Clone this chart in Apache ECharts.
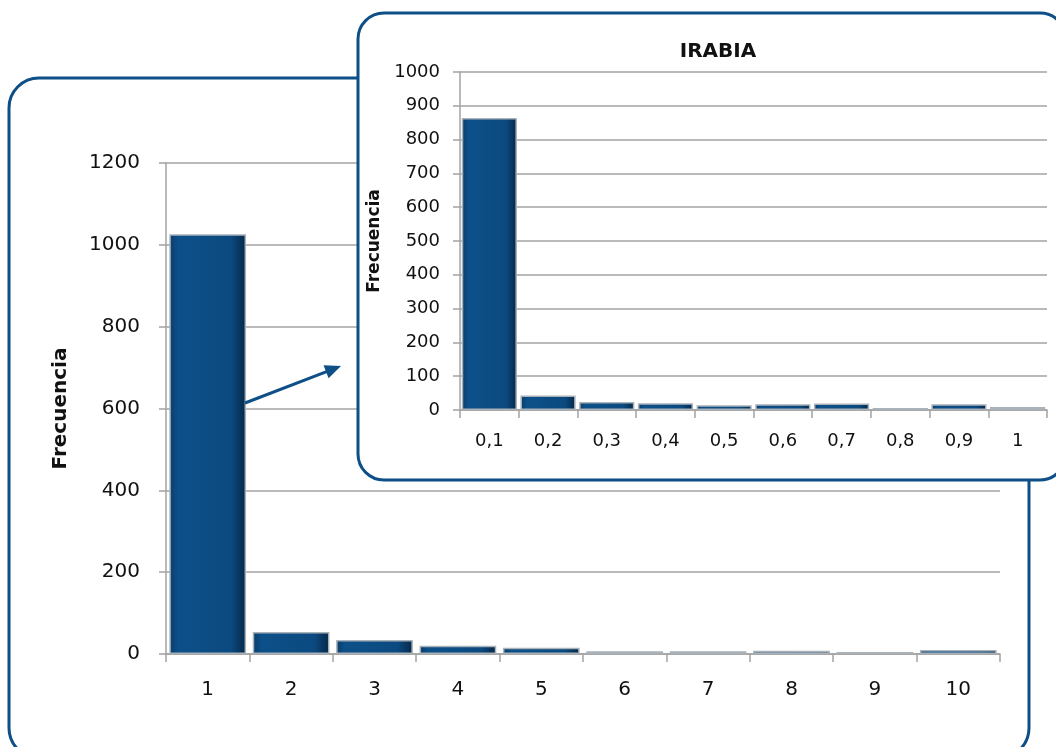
<!DOCTYPE html>
<html><head><meta charset="utf-8">
<script src="https://cdn.jsdelivr.net/npm/echarts@6/dist/echarts.min.js"></script>
<style>html,body{margin:0;padding:0;background:#fff}#c{width:1056px;height:747px}</style>
</head><body><div id="c"></div>
<script>
// Main chart data
const mainCategories = ['1','2','3','4','5','6','7','8','9','10'];
const mainValues = [1026, 54, 34, 20, 15, 7, 7, 8, 5, 10];
const mainYTicks = { min: 0, max: 1200, interval: 200 };
// Inset (IRABIA) data
const insetTitle = 'IRABIA';
const insetCategories = ['0,1','0,2','0,3','0,4','0,5','0,6','0,7','0,8','0,9','1'];
const insetValues = [864, 43, 24, 20, 14, 17, 19, 6, 17, 9];
const insetYTicks = { min: 0, max: 1000, interval: 100 };
const axisName = 'Frecuencia';

const chart = echarts.init(document.getElementById('c'), null, {renderer:'canvas'});
const blue = '#0d4f86';
const gridColor = '#a3a3a3';
const barStyle = {
  color: new echarts.graphic.LinearGradient(0,0,1,0,[
    {offset:0,color:'#0a3d6a'},{offset:0.12,color:'#0d5089'},{offset:0.8,color:'#0b4a80'},{offset:1,color:'#052848'}]),
  borderColor:'#a9b1b9', borderWidth:1.5
};
function axes(gi, cats, yt, fontSize, z, nameSize, nameGap, xMargin, yMargin){
  return {
    x: {type:'category', gridIndex:gi, data:cats, z:z,
      axisLine:{lineStyle:{color:gridColor,width:1.5}},
      axisTick:{show:true,length:8,lineStyle:{color:gridColor,width:1.5}},
      axisLabel:{color:'#111',fontFamily:'DejaVu Sans',fontSize:fontSize,margin:xMargin}},
    y: {type:'value', gridIndex:gi, min:yt.min, max:yt.max, interval:yt.interval, z:z,
      name:axisName, nameLocation:'middle', nameGap:nameGap, nameRotate:90,
      nameTextStyle:{fontFamily:'DejaVu Sans',fontWeight:'bold',fontSize:nameSize,color:'#111'},
      axisLine:{show:true,lineStyle:{color:gridColor,width:1.5}},
      axisTick:{show:true,length:7,lineStyle:{color:gridColor,width:1.5}},
      splitLine:{show:true,lineStyle:{color:gridColor,width:1.5}},
      axisLabel:{color:'#111',fontFamily:'DejaVu Sans',fontSize:fontSize,margin:yMargin,
        formatter:function(v){return String(v);}}}
  };
}
const a0 = axes(0, mainCategories, mainYTicks, 20, 0, 20, 95, 26, 26);
const a1 = axes(1, insetCategories, insetYTicks, 18, 12, 17, 72, 22, 20);

// arrow geometry
const tip=[341,366], from=[245,403];
const dx=tip[0]-from[0], dy=tip[1]-from[1], L=Math.hypot(dx,dy), ux=dx/L, uy=dy/L;
const hl=16, hw=7;
const bc=[tip[0]-hl*ux, tip[1]-hl*uy];
const px=-uy, py=ux;

chart.setOption({
  animation:false,
  title:{text:insetTitle,left:713,top:37,textAlign:'center',z:12,
    textStyle:{fontFamily:'DejaVu Sans',fontWeight:'bold',fontSize:20,color:'#111'}},
  grid:[{left:166,right:56,top:163,bottom:93},
        {left:460,right:9,top:72,bottom:337}],
  xAxis:[a0.x,a1.x],
  yAxis:[a0.y,a1.y],
  series:[
    {type:'bar',xAxisIndex:0,yAxisIndex:0,data:mainValues,barCategoryGap:'8%',itemStyle:barStyle,z:2},
    {type:'bar',xAxisIndex:1,yAxisIndex:1,data:insetValues,barCategoryGap:'6%',itemStyle:barStyle,z:13}
  ],
  graphic:[
    {type:'rect',z:1,shape:{x:9,y:78,width:1020,height:680,r:30},style:{fill:'none',stroke:blue,lineWidth:3}},
    {type:'line',z:3,shape:{x1:from[0],y1:from[1],x2:bc[0]+2*ux,y2:bc[1]+2*uy},style:{stroke:blue,lineWidth:3}},
    {type:'polygon',z:3,shape:{points:[tip,[bc[0]+hw*px,bc[1]+hw*py],[bc[0]-hw*px,bc[1]-hw*py]]},style:{fill:blue}},
    {type:'rect',z:10,shape:{x:358,y:13,width:708,height:467,r:26},style:{fill:'#fff',stroke:blue,lineWidth:3}}
  ]
});
</script></body></html>
